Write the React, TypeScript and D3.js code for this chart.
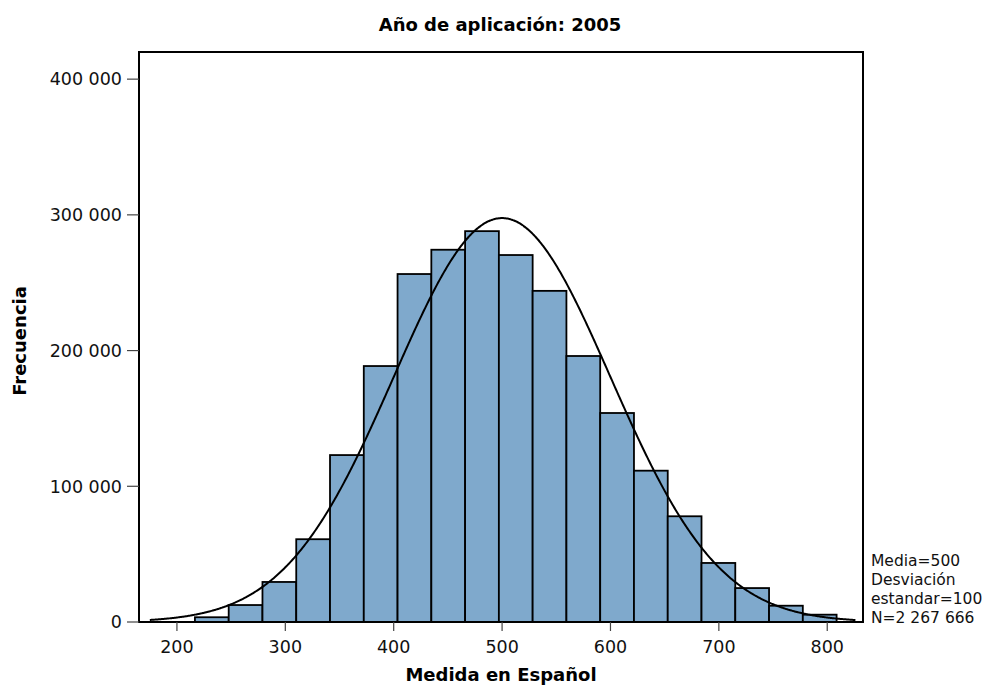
import React from "react";
import * as d3 from "d3";

const binStart = 216.6;
const binWidth = 31.16;
const binCounts = [3500, 12500, 29500, 61000, 123000, 188600, 256400, 274300, 288000, 270400, 244000, 196000, 154000, 111500, 77900, 43500, 25000, 12000, 5400];
const mean = 500;
const sd = 100;
const N = 2267666;
const curveBinWidth = 32.9;
const curveRange = [175, 826];
const xTicks = [200, 300, 400, 500, 600, 700, 800];
const yTicks = [0, 100000, 200000, 300000, 400000];
const legendLines = ["Media=500", "Desviación", "estandar=100", "N=2 267 666"];
const title = "Año de aplicación: 2005";
const xTitle = "Medida en Español";
const yTitle = "Frecuencia";

const W = 989;
const H = 687;
const L = 139, R = 863, T = 52, B = 622;
const FONT = "'DejaVu Sans', Verdana, sans-serif";

export default function App() {
  const x = d3.scaleLinear().domain([165, 833]).range([L, R]);
  const y = d3.scaleLinear().domain([0, 420000]).range([B, T]);
  const fmt = (v: number) => d3.format(",")(v).replace(/,/g, " ");
  const pdf = (v: number) => Math.exp(-0.5 * ((v - mean) / sd) ** 2) / (sd * Math.sqrt(2 * Math.PI));
  const pts: [number, number][] = d3.range(curveRange[0], curveRange[1] + 0.5, 1).map((v) => [v, N * curveBinWidth * pdf(v)]);
  const line = d3.line<[number, number]>().x((d) => x(d[0])).y((d) => y(d[1])).curve(d3.curveBasis);

  return (
    <svg width={W} height={H} style={{ position: "absolute", left: 0, top: 0, background: "#fff" }} fontFamily={FONT}>
      <text x={500} y={31} textAnchor="middle" fontWeight="bold" fontSize={18} fill="#000">{title}</text>
      <rect x={L} y={T} width={R - L} height={B - T} fill="#fff" stroke="none" />
      {binCounts.map((c, i) => {
        const x0 = x(binStart + i * binWidth);
        const x1 = x(binStart + (i + 1) * binWidth);
        return <rect key={i} x={x0} y={y(c)} width={x1 - x0} height={y(0) - y(c)} fill="#7FA9CC" stroke="#000" strokeWidth={1.8} />;
      })}
      <path d={line(pts) || ""} fill="none" stroke="#000" strokeWidth={2} />
      <rect x={L} y={T} width={R - L} height={B - T} fill="none" stroke="#000" strokeWidth={2} />
      {yTicks.map((t) => (
        <g key={t}>
          <line x1={L - 12} x2={L} y1={y(t)} y2={y(t)} stroke="#444" strokeWidth={1.2} />
          <text x={L - 17} y={y(t)} dy="0.36em" textAnchor="end" fontSize={17.5} fill="#111">{fmt(t)}</text>
        </g>
      ))}
      {xTicks.map((t) => (
        <g key={t}>
          <line x1={x(t)} x2={x(t)} y1={B} y2={B + 9} stroke="#444" strokeWidth={1.2} />
          <text x={x(t)} y={B + 31} textAnchor="middle" fontSize={17.5} fill="#111">{t}</text>
        </g>
      ))}
      <text x={501} y={681} textAnchor="middle" fontWeight="bold" fontSize={18} fill="#000">{xTitle}</text>
      <text transform={`translate(26,${(T + B) / 2 + 4}) rotate(-90)`} textAnchor="middle" fontWeight="bold" fontSize={18} fill="#000">{yTitle}</text>
      {legendLines.map((s, i) => (
        <text key={i} x={871} y={566 + i * 19} fontSize={15.5} fill="#111">{s}</text>
      ))}
    </svg>
  );
}
